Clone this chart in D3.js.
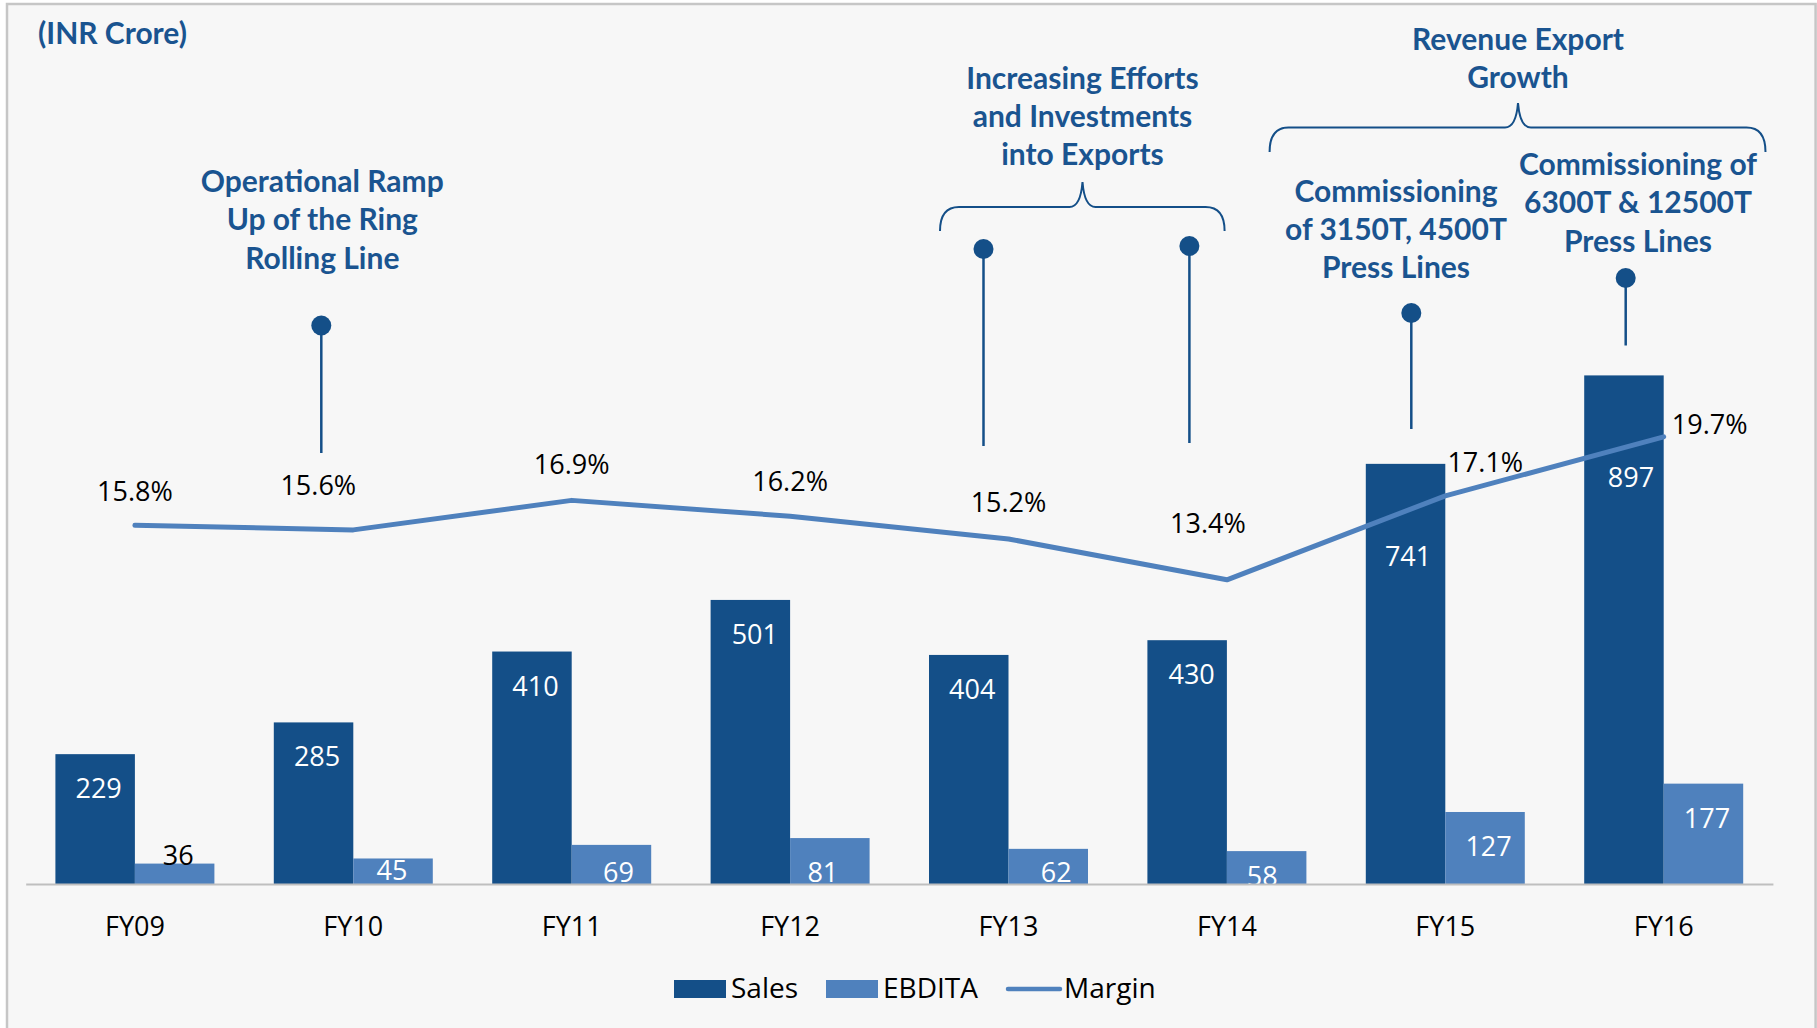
<!DOCTYPE html>
<html><head><meta charset="utf-8">
<script src="https://cdn.jsdelivr.net/npm/d3@7"></script>
<style>body{margin:0;background:#fff;} svg{display:block;}</style>
</head><body>
<svg id="c" width="1817" height="1028"></svg>
<script>
// ---------- DATA ----------
const categories = ["FY09","FY10","FY11","FY12","FY13","FY14","FY15","FY16"];
const sales  = [229, 285, 410, 501, 404, 430, 741, 897];
const ebdita = [36, 45, 69, 81, 62, 58, 127, 177];
const margin = [15.8, 15.6, 16.9, 16.2, 15.2, 13.4, 17.1, 19.7];
const seriesNames = ["Sales", "EBDITA", "Margin"];
const unitLabel = "(INR Crore)";
const noteRamp = ["Operational Ramp", "Up of the Ring", "Rolling Line"];
const noteExports = ["Increasing Efforts", "and Investments", "into Exports"];
const noteRevenue = ["Revenue Export", "Growth"];
const notePress1 = ["Commissioning", "of 3150T, 4500T", "Press Lines"];
const notePress2 = ["Commissioning of", "6300T & 12500T", "Press Lines"];
const pinCategories = ["FY10", "FY13", "FY14", "FY15", "FY16"];

// ---------- LAYOUT (label nudges / annotation placement) ----------
const salesLabelDx  = [3.5, 3.5, 3.5, 4.5, 3.5, 4.5, 2.5, 7];
const salesLabelDy  = [44, 44, 44, 44, 44, 44, 102, 112];
const ebditaLabelDx = [3.5, -1, 7, -7, 8, -4.5, 3.5, 3.5];
const ebditaLabelDy = [1, 22, 37, 44, 33, 35, 44, 44];
const marginLabelDx = [0, -35, 0, 0, 0, -19, 40, 46];
const marginLabelDy = [-24, -35, -26, -25, -27, -47, -24, -3];
const pinDx     = [-32, -25, -37.5, -34, -38];
const pinTop    = [325.5, 249, 246, 313, 278];
const pinBottom = [453, 446, 443, 429, 345.5];

const C = {
  sales: "#144F88", ebdita: "#4F81BD", line: "#4F81BD",
  note: "#1A5490", text: "#000", bg: "#F7F7F7", border: "#C6C6C6", axis: "#BFBFBF"
};
const dataFont = "'Open Sans', sans-serif";
const noteFont = "Lato, sans-serif";

const svg = d3.select("#c");
svg.append("rect").attr("x", 7).attr("y", 4).attr("width", 1808.6).attr("height", 1100)
  .attr("fill", C.bg).attr("stroke", C.border).attr("stroke-width", 2.5);

const baseY = 884;
const x0 = d3.scaleBand().domain(categories).range([25.7, 1772.9]).paddingInner(0.272).paddingOuter(0.136);
const x1 = d3.scaleBand().domain(["Sales", "EBDITA"]).range([0, x0.bandwidth()]);
const y  = d3.scaleLinear().domain([0, 1000]).range([baseY, 317]);
const y2 = d3.scaleLinear().domain([0, 25]).range([baseY, 316.5]);
const cx = c => x0(c) + x0.bandwidth() / 2;

// bars
const g = svg.append("g");
g.selectAll("rect.s").data(categories).join("rect").attr("class", "s")
  .attr("x", c => x0(c) + x1("Sales")).attr("width", x1.bandwidth())
  .attr("y", (c, i) => y(sales[i])).attr("height", (c, i) => baseY - y(sales[i]))
  .attr("fill", C.sales);
g.selectAll("rect.e").data(categories).join("rect").attr("class", "e")
  .attr("x", c => x0(c) + x1("EBDITA")).attr("width", x1.bandwidth())
  .attr("y", (c, i) => y(ebdita[i])).attr("height", (c, i) => baseY - y(ebdita[i]))
  .attr("fill", C.ebdita);

// axis
const xAxis = d3.axisBottom(x0).tickSize(0).tickPadding(33);
const ax = svg.append("g").attr("transform", `translate(0,${baseY})`).call(xAxis);
ax.select(".domain").attr("stroke", C.axis).attr("stroke-width", 2);
ax.selectAll("text").attr("font-family", dataFont).attr("font-size", 27).attr("fill", C.text);

// bar labels
g.selectAll("text.sl").data(categories).join("text").attr("class", "sl")
  .attr("x", (c, i) => x0(c) + x1("Sales") + x1.bandwidth() / 2 + salesLabelDx[i])
  .attr("y", (c, i) => y(sales[i]) + salesLabelDy[i])
  .attr("text-anchor", "middle").attr("font-family", dataFont).attr("font-size", 27)
  .attr("fill", "#fff").text((c, i) => sales[i]);
g.selectAll("text.el").data(categories).join("text").attr("class", "el")
  .attr("x", (c, i) => x0(c) + x1("EBDITA") + x1.bandwidth() / 2 + ebditaLabelDx[i])
  .attr("y", (c, i) => y(ebdita[i]) + ebditaLabelDy[i])
  .attr("text-anchor", "middle").attr("font-family", dataFont).attr("font-size", 27)
  .attr("fill", (c, i) => ebditaLabelDy[i] < 5 ? C.text : "#fff").text((c, i) => ebdita[i]);

// margin line
const line = d3.line().x((d, i) => cx(categories[i])).y(d => y2(d));
svg.append("path").datum(margin).attr("d", line).attr("fill", "none")
  .attr("stroke", C.line).attr("stroke-width", 5).attr("stroke-linecap", "round").attr("stroke-linejoin", "round");
svg.selectAll("text.ml").data(margin).join("text").attr("class", "ml")
  .attr("x", (d, i) => cx(categories[i]) + marginLabelDx[i])
  .attr("y", (d, i) => y2(d) + marginLabelDy[i])
  .attr("text-anchor", "middle").attr("font-family", dataFont).attr("font-size", 27)
  .attr("fill", C.text).text(d => d.toFixed(1) + "%");

// pins
pinCategories.forEach((c, i) => {
  const px = cx(c) + pinDx[i];
  svg.append("line").attr("x1", px).attr("x2", px).attr("y1", pinTop[i]).attr("y2", pinBottom[i])
    .attr("stroke", C.sales).attr("stroke-width", 2.5);
  svg.append("circle").attr("cx", px).attr("cy", pinTop[i]).attr("r", 10).attr("fill", C.sales);
});

// braces
function brace(xl, xr, yTop, yEnd, yCusp, xm) {
  const r = 19;
  return `M${xl},${yEnd} Q${xl},${yTop} ${xl + r},${yTop} L${xm - 13},${yTop} Q${xm - 2},${yTop} ${xm},${yCusp}` +
         ` Q${xm + 2},${yTop} ${xm + 13},${yTop} L${xr - r},${yTop} Q${xr},${yTop} ${xr},${yEnd}`;
}
svg.append("path").attr("d", brace(940, 1224.6, 207, 231, 182, 1082.5))
  .attr("fill", "none").attr("stroke", C.sales).attr("stroke-width", 2);
svg.append("path").attr("d", brace(1269.6, 1765.5, 127.5, 152, 103, 1518))
  .attr("fill", "none").attr("stroke", C.sales).attr("stroke-width", 2);

// annotation texts
function note(lines, x, y0, lh) {
  const t = svg.append("text").attr("text-anchor", "middle").attr("font-family", noteFont)
    .attr("font-weight", 700).attr("font-size", 30).attr("fill", C.note);
  lines.forEach((s, i) => t.append("tspan").attr("x", x).attr("y", y0 + i * lh).text(s));
}
svg.append("text").attr("x", 38).attr("y", 44).attr("font-family", noteFont).attr("font-weight", 700)
  .attr("font-size", 30).attr("fill", C.note).text(unitLabel);
note(noteRamp, 322.3, 192, 38.3);
note(noteExports, 1082.5, 88.5, 38);
note(noteRevenue, 1518, 50, 38.3);
note(notePress1, 1396, 201.7, 38.3);
note(notePress2, 1638, 175, 38.3);

// legend
const lg = svg.append("g").attr("font-family", dataFont).attr("font-size", 28).attr("fill", C.text);
lg.append("rect").attr("x", 674).attr("y", 980).attr("width", 52).attr("height", 18).attr("fill", C.sales);
lg.append("text").attr("x", 731).attr("y", 997.5).text(seriesNames[0]);
lg.append("rect").attr("x", 826).attr("y", 980).attr("width", 52).attr("height", 18).attr("fill", C.ebdita);
lg.append("text").attr("x", 883).attr("y", 997.5).text(seriesNames[1]);
lg.append("line").attr("x1", 1008).attr("x2", 1060).attr("y1", 989).attr("y2", 989)
  .attr("stroke", C.line).attr("stroke-width", 4.5).attr("stroke-linecap", "round");
lg.append("text").attr("x", 1064).attr("y", 997.5).text(seriesNames[2]);
</script>
</body></html>
